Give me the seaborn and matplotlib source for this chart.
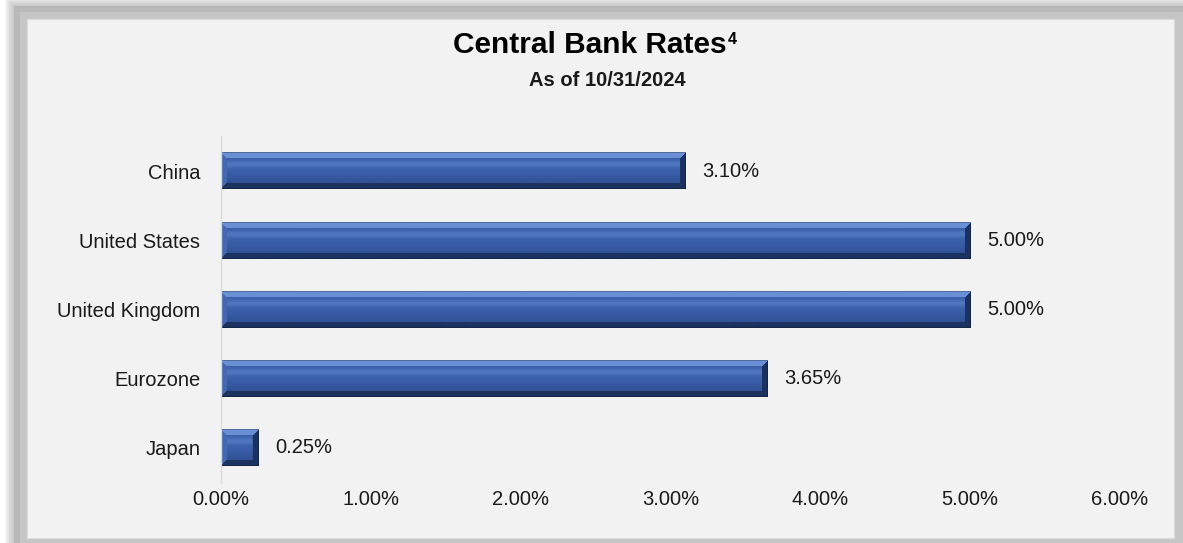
import matplotlib
matplotlib.use("Agg")
import matplotlib.pyplot as plt
import seaborn as sns
import numpy as np
import pandas as pd
from matplotlib.patches import Rectangle
from matplotlib.colors import to_rgb

# ---- data ----
countries = ["China", "United States", "United Kingdom", "Eurozone", "Japan"]
rates = [3.10, 5.00, 5.00, 3.65, 0.25]
xtick_values = [0, 1, 2, 3, 4, 5, 6]
xtick_labels = ["0.00%", "1.00%", "2.00%", "3.00%", "4.00%", "5.00%", "6.00%"]
title_text = "Central Bank Rates"
title_sup = "4"
subtitle_text = "As of 10/31/2024"

df = pd.DataFrame({"country": countries, "rate": rates})

sns.set_theme(style="white")
plt.rcParams["font.family"] = ["Liberation Sans", "DejaVu Sans"]

W, H = 1183, 543
fig = plt.figure(figsize=(W / 100, H / 100), dpi=100, facecolor="white")


def fx(x):
    return x / W


def fy(y):
    return 1 - y / H


def frect(x0, y0, x1, y1, **kw):
    r = Rectangle((fx(x0), fy(y1)), fx(x1) - fx(x0), fy(y0) - fy(y1),
                  transform=fig.transFigure, **kw)
    fig.patches.append(r)
    return r


# soft shadow + frame
for d in range(9, 0, -1):
    frect(14 - d, 6 - d, W, H, facecolor="#9a9a9a", edgecolor="none",
          alpha=0.07, zorder=0)
frect(14, 6, W, H, facecolor="#b9b9b9", edgecolor="none", zorder=1)
frect(20, 12, W, H, facecolor="#c6c6c6", edgecolor="none", zorder=1)
frect(27, 19, 1174, 538, facecolor="#f2f2f2", edgecolor="#dcdcdc",
      linewidth=0.8, zorder=2)

# axes
top_px, bot_px = 136.4, 482.6
ax = fig.add_axes([fx(221), fy(bot_px), fx(1120) - fx(221), (bot_px - top_px) / H])
ax.set_facecolor("none")
ax.set_zorder(3)

sns.barplot(data=df, x="rate", y="country", orient="h", color="#2f5597",
            saturation=1, width=0.53, ax=ax, edgecolor="none")

ax.set_xlim(0, 6)
ax.set_ylim(4.5, -0.5)
ax.set_xticks(xtick_values)
ax.set_xticklabels(xtick_labels)
ax.set_xlabel("")
ax.set_ylabel("")
ax.tick_params(axis="both", length=0, labelsize=14.5, colors="#1a1a1a")
ax.tick_params(axis="y", pad=15)
ax.tick_params(axis="x", pad=5)
for s in ["top", "right", "bottom"]:
    ax.spines[s].set_visible(False)
ax.spines["left"].set_color("#d9d9d9")
ax.spines["left"].set_linewidth(1)

# value labels
ax.bar_label(ax.containers[0], labels=[f"{v:.2f}%" for v in rates],
             padding=12, fontsize=14.5, color="#1a1a1a")

# bevel shading over bars
fig.canvas.draw()


def bevel_img(wpx, hpx, b=6):
    ys, xs = np.mgrid[0:hpx, 0:wpx].astype(float) + 0.5
    d = np.stack([ys, hpx - ys, xs, wpx - xs])
    nearest = d.argmin(0)
    mind = d.min(0)
    t = ys / hpx
    c_mid = np.array(to_rgb("#3a5ea8"))
    c_light = np.array(to_rgb("#5e86cf"))
    c_bot = np.array(to_rgb("#2c4a8c"))
    img = np.zeros((hpx, wpx, 3))
    hl = np.exp(-((t - 0.33) / 0.10) ** 2)[..., None]
    base = np.broadcast_to(c_mid, (hpx, wpx, 3)).copy()
    base = base * (1 - hl * 0.6) + c_light[None, None, :] * hl * 0.6
    low = np.clip((t - 0.55) / 0.45, 0, 1)[..., None]
    base = base * (1 - low) + c_bot[None, None, :] * low
    img[:] = base
    edge_cols = {
        0: np.array(to_rgb("#6a8fd5")),  # top
        1: np.array(to_rgb("#1c3361")),  # bottom
        2: np.array(to_rgb("#4469b0")),  # left
        3: np.array(to_rgb("#1b3260")),  # right
    }
    inband = mind < b
    for k, col in edge_cols.items():
        m = inband & (nearest == k)
        img[m] = col
    outline = mind < 1.2
    img[outline] = img[outline] * 0.75
    return img


for p in ax.patches:
    x0, y0 = p.get_x(), p.get_y()
    w, h = p.get_width(), p.get_height()
    (px0, py0) = ax.transData.transform((x0, y0))
    (px1, py1) = ax.transData.transform((x0 + w, y0 + h))
    wpx = max(int(round(abs(px1 - px0))), 2)
    hpx = max(int(round(abs(py1 - py0))), 2)
    img = bevel_img(wpx, hpx)
    ax.imshow(img, extent=(x0, x0 + w, y0 + h, y0), aspect="auto",
              interpolation="bilinear", zorder=p.get_zorder() + 0.1)

ax.set_xlim(0, 6)
ax.set_ylim(4.5, -0.5)

# titles
t = fig.text(fx(590), fy(45), title_text, ha="center", va="center",
             fontsize=21.5, fontweight="bold", color="#000000", zorder=5)
fig.text(fx(607), fy(80), subtitle_text, ha="center", va="center",
         fontsize=14.5, fontweight="bold", color="#1a1a1a", zorder=5)
fig.canvas.draw()
bb = t.get_window_extent()
fig.text(bb.x1 + 1, bb.y1 - 1, title_sup, ha="left", va="top",
         fontsize=11.5, fontweight="bold", color="#000000", transform=None,
         zorder=5)

fig.savefig("out.png", dpi=100, facecolor="white")
